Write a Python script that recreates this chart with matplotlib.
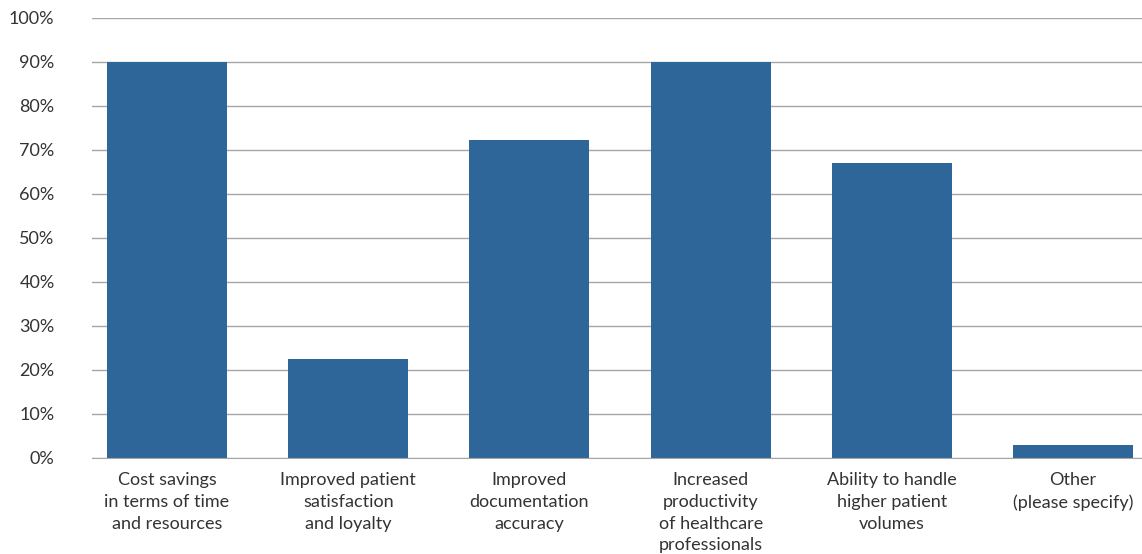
import matplotlib.pyplot as plt
from matplotlib.ticker import PercentFormatter

categories = [
    'Cost savings\nin terms of time\nand resources',
    'Improved patient\nsatisfaction\nand loyalty',
    'Improved\ndocumentation\naccuracy',
    'Increased\nproductivity\nof healthcare\nprofessionals',
    'Ability to handle\nhigher patient\nvolumes',
    'Other\n(please specify)',
]
values = [90, 22.5, 72.3, 90, 67.0, 3.0]
y_ticks = [0, 10, 20, 30, 40, 50, 60, 70, 80, 90, 100]

plt.rcParams['font.family'] = ['Lato', 'DejaVu Sans']

fig = plt.figure(figsize=(11.42, 5.54), dpi=100)
ax = fig.add_axes([92 / 1142, 96 / 554, 1050 / 1142, 440 / 554])

x = range(len(categories))
ax.bar(x, values, width=0.662, color='#2e6699', zorder=3)

ax.set_ylim(0, 100)
ax.set_xlim(-0.414, 5.38)
ax.set_yticks(y_ticks)
ax.yaxis.set_major_formatter(PercentFormatter(decimals=0))
ax.set_xticks(list(x))
ax.set_xticklabels(categories, fontsize=13, color='#333333', linespacing=1.45)
ax.tick_params(axis='y', labelsize=13, labelcolor='#333333', length=0, pad=27)
ax.tick_params(axis='x', length=0, pad=10)

ax.grid(axis='y', color='#a6a6a6', linewidth=1, zorder=0)
for side in ['top', 'right', 'left']:
    ax.spines[side].set_visible(False)
ax.spines['bottom'].set_color('#a6a6a6')
ax.spines['bottom'].set_zorder(4)

fig.savefig('out.png', dpi=100)
